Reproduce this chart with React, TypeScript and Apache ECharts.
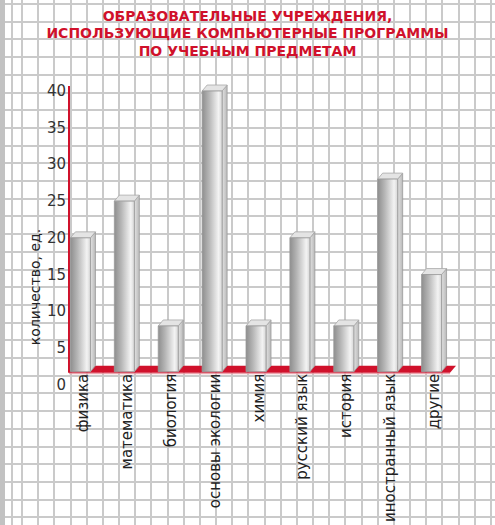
import React, { useEffect, useRef } from "react";
import * as echarts from "echarts";

const titleLines = [
  "ОБРАЗОВАТЕЛЬНЫЕ УЧРЕЖДЕНИЯ,",
  "ИСПОЛЬЗУЮЩИЕ КОМПЬЮТЕРНЫЕ ПРОГРАММЫ",
  "ПО УЧЕБНЫМ ПРЕДМЕТАМ",
];
const categories = [
  "физика",
  "математика",
  "биология",
  "основы экологии",
  "химия",
  "русский язык",
  "история",
  "иностранный язык",
  "другие",
];
const values = [20, 25, 8, 40, 8, 20, 8, 28, 15];
const yAxisName = "количество, ед.";
const yMin = 0;
const yMax = 40;
const yInterval = 5;

const RED = "#d0112b";
const FONT = "DejaVu Sans";

export default function App() {
  const ref = useRef<HTMLDivElement>(null);

  useEffect(() => {
    if (!ref.current) return;
    const chart = echarts.init(ref.current, null, { renderer: "svg" });

    const barData = values.map((v, i) => [i, v]);

    const option: any = {
      animation: false,
      backgroundColor: "transparent",
      title: {
        text: titleLines.join("\n"),
        left: "center",
        top: 2,
        textStyle: {
          fontFamily: FONT,
          fontSize: 14,
          fontWeight: "bold",
          color: RED,
          lineHeight: 17.5,
          align: "center",
        },
      },
      grid: { left: 61, right: 39, top: 91, bottom: 137, containLabel: false },
      xAxis: {
        type: "category",
        data: categories,
        boundaryGap: true,
        axisLine: { show: false },
        axisTick: { show: false },
        axisLabel: {
          interval: 0,
          rotate: 90,
          margin: -11,
          fontFamily: FONT,
          fontSize: 15,
          color: "#222",
        },
        splitLine: { show: false },
      },
      yAxis: {
        type: "value",
        min: yMin,
        max: yMax,
        interval: yInterval,
        offset: -8,
        axisLine: { show: false },
        axisTick: { show: false },
        splitLine: { show: false },
        axisLabel: {
          margin: 3,
          fontFamily: FONT,
          fontSize: 15,
          color: "#333",
        },
      },
      graphic: [
        {
          type: "text",
          x: 35,
          y: 287,
          rotation: Math.PI / 2,
          style: {
            text: yAxisName,
            fontFamily: FONT,
            fontSize: 14,
            fill: "#222",
            align: "center",
            verticalAlign: "middle",
          },
        },
      ],
      series: [
        {
          type: "custom",
          name: "floor",
          clip: false,
          z: 1,
          data: [[0, 0]],
          renderItem: (params: any, api: any) => {
            const band = api.size([1, 0])[0];
            const first = api.coord([0, 0]);
            const last = api.coord([categories.length - 1, 0]);
            const topPt = api.coord([0, yMax]);
            const left = first[0] - band / 2 + 8;
            const right = last[0] + band / 2;
            const yb = first[1] - 12;
            return {
              type: "group",
              children: [
                {
                  type: "polygon",
                  shape: {
                    points: [
                      [left, yb],
                      [right - 6, yb],
                      [right, yb - 7],
                      [left + 6, yb - 7],
                    ],
                  },
                  style: { fill: RED },
                },
                {
                  type: "line",
                  shape: { x1: left, y1: yb + 1, x2: right - 6, y2: yb + 1 },
                  style: { stroke: "#e8909c", lineWidth: 1 },
                },
                {
                  type: "line",
                  shape: { x1: left, y1: yb, x2: left, y2: topPt[1] - 5 },
                  style: { stroke: RED, lineWidth: 2 },
                },
              ],
            };
          },
        },
        {
          type: "custom",
          name: "bars",
          clip: false,
          z: 3,
          data: barData,
          encode: { x: 0, y: 1 },
          renderItem: (params: any, api: any) => {
            const idx = api.value(0);
            const v = api.value(1);
            const top = api.coord([idx, v]);
            const base = api.coord([idx, 0]);
            const w = 20;
            const dx = 5;
            const dy = 6;
            const x0 = top[0] - 2.5 - w / 2;
            const x1 = x0 + w;
            const yt = top[1];
            const yb = base[1] - 13;
            return {
              type: "group",
              children: [
                {
                  type: "polygon",
                  shape: {
                    points: [
                      [x1, yt],
                      [x1 + dx, yt - dy],
                      [x1 + dx, yb - dy],
                      [x1, yb],
                    ],
                  },
                  style: {
                    fill: new echarts.graphic.LinearGradient(0, 0, 1, 0, [
                      { offset: 0, color: "#e2e2e2" },
                      { offset: 1, color: "#b9b9b9" },
                    ]),
                    stroke: "#9a9a9a",
                    lineWidth: 0.8,
                  },
                },
                {
                  type: "polygon",
                  shape: {
                    points: [
                      [x0, yt],
                      [x1, yt],
                      [x1 + dx, yt - dy],
                      [x0 + dx, yt - dy],
                    ],
                  },
                  style: { fill: "#e4e4e4", stroke: "#a8a8a8", lineWidth: 0.8 },
                },
                {
                  type: "rect",
                  shape: { x: x0, y: yt, width: w, height: yb - yt },
                  style: {
                    fill: new echarts.graphic.LinearGradient(0, 0, 1, 0, [
                      { offset: 0, color: "#8e8e8e" },
                      { offset: 0.35, color: "#b6b6b6" },
                      { offset: 0.82, color: "#f3f3f3" },
                      { offset: 1, color: "#d6d6d6" },
                    ]),
                    stroke: "#9a9a9a",
                    lineWidth: 0.8,
                  },
                },
              ],
            };
          },
        },
      ],
    };

    chart.setOption(option);
    return () => chart.dispose();
  }, []);

  return (
    <div
      style={{
        position: "absolute",
        left: 0,
        top: 0,
        width: 495,
        height: 525,
        backgroundColor: "#ffffff",
        backgroundImage: [
          "linear-gradient(to right, #c2c2c2 0px, #c2c2c2 5px, transparent 5px)",
          "repeating-linear-gradient(to right, #cacaca 0px, #cacaca 2px, transparent 2px, transparent 16.17px)",
          "repeating-linear-gradient(to bottom, #cacaca 0px, #cacaca 2px, transparent 2px, transparent 17.7px)",
        ].join(","),
        backgroundPosition: "0 0, 21px 0, 0 3px",
      }}
    >
      <div ref={ref} style={{ width: 495, height: 525 }} />
    </div>
  );
}
